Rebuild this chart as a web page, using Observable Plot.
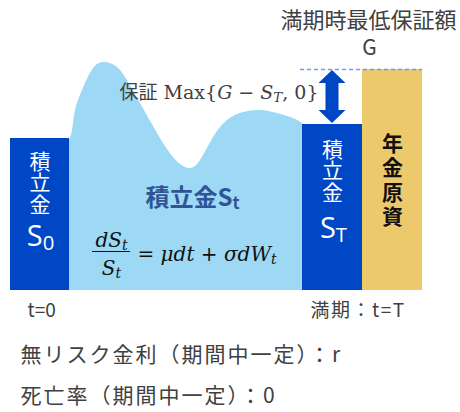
<!DOCTYPE html>
<html><head><meta charset="utf-8">
<script src="https://cdn.jsdelivr.net/npm/d3@7"></script>
<script src="https://cdn.jsdelivr.net/npm/@observablehq/plot@0.6"></script>
<style>body{margin:0;background:#fff} svg{display:block}</style>
</head><body><div id="chart"></div>
<script>
// ---- data (t: horizontal time axis, v: amount) ----
const curveT = [69, 72, 75, 82, 93, 105, 117, 127, 140, 157, 173, 188, 200, 213, 227, 243, 260, 277, 293, 302];
const curveS = [150, 160, 180, 200, 222, 228, 223, 210, 187, 157, 133, 122, 130, 153, 170, 178, 180, 177, 172, 167];
const boxNames = ["S0", "ST", "年金原資"];
const boxStart = [10, 302, 362];
const boxEnd = [69, 362, 422];
const boxValue = [152, 166, 221];
const guaranteeG = 221;
const dashStart = 300, dashEnd = 422;
const arrowT = 332;

const titleLines = ["満期時最低保証額", "G"];
const guaranteeText = "保証 Max{*G* − *S*_{*T*}, 0}";
const verticalLabel = "積\n立\n金";
const s0Label = "S_{0}";
const sTLabel = "S_{T}";
const annuityLabel = "年\n金\n原\n資";
const processLabel = "積立金S_{t}";
const fracNum = "dS_{t}";
const fracDen = "S_{t}";
const formulaRest = "= μdt + σdW_{t}";
const timeLabels = ["t=0", "満期：t=T"];
const noteLines = ["無リスク金利（期間中一定）：r", "死亡率（期間中一定）：0"];

// ---- derived tables ----
const curve = curveT.map((t, i) => ({t, s: curveS[i]}));
const boxes = boxNames.map((name, i) => ({name, t1: boxStart[i], t2: boxEnd[i], v: boxValue[i]}));
const headL = 13, headW = 27, shaftW = 13;
const aLo = boxValue[1] + 1, aHi = guaranteeG - 1;
const arrow = [
  {y: aLo, x1: arrowT, x2: arrowT},
  {y: aLo + headL, x1: arrowT - headW / 2, x2: arrowT + headW / 2},
  {y: aLo + headL, x1: arrowT - shaftW / 2, x2: arrowT + shaftW / 2},
  {y: aHi - headL, x1: arrowT - shaftW / 2, x2: arrowT + shaftW / 2},
  {y: aHi - headL, x1: arrowT - headW / 2, x2: arrowT + headW / 2},
  {y: aHi, x1: arrowT, x2: arrowT}
];

const jp = "'Noto Sans CJK JP', 'Noto Sans', sans-serif";
const serif = "'DejaVu Serif', 'Noto Sans CJK JP', serif";
const gray = "#404040";
const one = (s) => [s];

const plot = Plot.plot({
  width: 460, height: 412,
  marginTop: 0, marginRight: 0, marginBottom: 0, marginLeft: 0,
  x: {domain: [0, 460], axis: null},
  y: {domain: [-122, 290], axis: null},
  color: {domain: boxNames, range: ["#0047C6", "#0047C6", "#ECC96A"]},
  style: {fontFamily: jp, background: "white", overflow: "visible"},
  marks: [
    Plot.areaY(curve, {x: "t", y: "s", fill: "#9DD9F5", curve: "natural"}),
    Plot.rect(boxes, {x1: "t1", x2: "t2", y1: 0, y2: "v", fill: "name"}),
    Plot.ruleY([guaranteeG], {x1: dashStart, x2: dashEnd, stroke: "#6E9DEB", strokeDasharray: "4,3", strokeWidth: 1.5}),
    Plot.areaX(arrow, {y: "y", x1: "x1", x2: "x2", fill: "#0047C6", curve: "linear"}),
    // title
    Plot.text(one(titleLines[0]), {x: () => 368, y: () => 270, text: d => d, fontSize: 22, fill: gray}),
    Plot.text(one(titleLines[1]), {x: () => 369, y: () => 242, text: d => d, fontSize: 21, fill: gray}),
    Plot.text(one(guaranteeText), {x: () => 318, y: () => 198, text: d => d, fontSize: 19, fill: gray, textAnchor: "end", fontFamily: serif}),
    // vertical labels in boxes
    Plot.text(one(verticalLabel), {x: () => 39.5, y: () => 107, text: d => d, fontSize: 21, lineHeight: 1.02, fill: "white"}),
    Plot.text(one(s0Label), {x: () => 40, y: () => 54, text: d => d, fontSize: 29, fill: "white", fontFamily: "'Open Sans', sans-serif"}),
    Plot.text(one(verticalLabel), {x: () => 332, y: () => 119, text: d => d, fontSize: 21, lineHeight: 1.02, fill: "white"}),
    Plot.text(one(sTLabel), {x: () => 333, y: () => 62, text: d => d, fontSize: 29, fill: "white", fontFamily: "'Open Sans', sans-serif"}),
    Plot.text(one(annuityLabel), {x: () => 392, y: () => 111, text: d => d, fontSize: 21, lineHeight: 1.17, fill: "#111", fontWeight: "bold"}),
    // process label and formula
    Plot.text(one(processLabel), {x: () => 192, y: () => 92, text: d => d, fontSize: 24, fontWeight: "bold", fill: "#2F5597"}),
    Plot.text(one(fracNum), {x: () => 111, y: () => 50, text: d => d, fontSize: 20, fontStyle: "italic", fontFamily: serif, fill: "#111"}),
    Plot.ruleY([39], {x1: 92, x2: 130, stroke: "#111", strokeWidth: 1}),
    Plot.text(one(fracDen), {x: () => 111, y: () => 22, text: d => d, fontSize: 20, fontStyle: "italic", fontFamily: serif, fill: "#111"}),
    Plot.text(one(formulaRest), {x: () => 137, y: () => 36, text: d => d, fontSize: 20, fontStyle: "italic", fontFamily: serif, fill: "#111", textAnchor: "start"}),
    // time labels and notes
    Plot.text(one(timeLabels[0]), {x: () => 27, y: () => -20, text: d => d, fontSize: 19, fill: gray, textAnchor: "start"}),
    Plot.text(one(timeLabels[1]), {x: () => 310, y: () => -20, text: d => d, fontSize: 19, fill: gray, textAnchor: "start"}),
    Plot.text(one(noteLines[0]), {x: () => 20, y: () => -65, text: d => d, fontSize: 21, fill: gray, textAnchor: "start"}),
    Plot.text(one(noteLines[1]), {x: () => 20, y: () => -106, text: d => d, fontSize: 21, fill: gray, textAnchor: "start"})
  ]
});

function markup(s) {
  return s
    .replace(/_\{([^}]*)\}/g, '<tspan baseline-shift="-20%" font-size="70%">$1</tspan>')
    .replace(/\*([^*]*)\*/g, '<tspan font-style="italic">$1</tspan>');
}
plot.querySelectorAll("text").forEach(t => {
  const spans = t.querySelectorAll("tspan");
  const nodes = spans.length ? Array.from(spans) : [t];
  nodes.forEach(n => {
    const s = n.textContent;
    if (s.includes("_{") || s.includes("*")) n.innerHTML = markup(s);
  });
  const c = t.textContent;
  if (c.startsWith("無リスク") || c.startsWith("死亡率")) t.setAttribute("letter-spacing", "2");
  if (c.startsWith("満期：")) t.setAttribute("letter-spacing", "1.5");
});
document.getElementById("chart").appendChild(plot);
</script>
</body></html>
